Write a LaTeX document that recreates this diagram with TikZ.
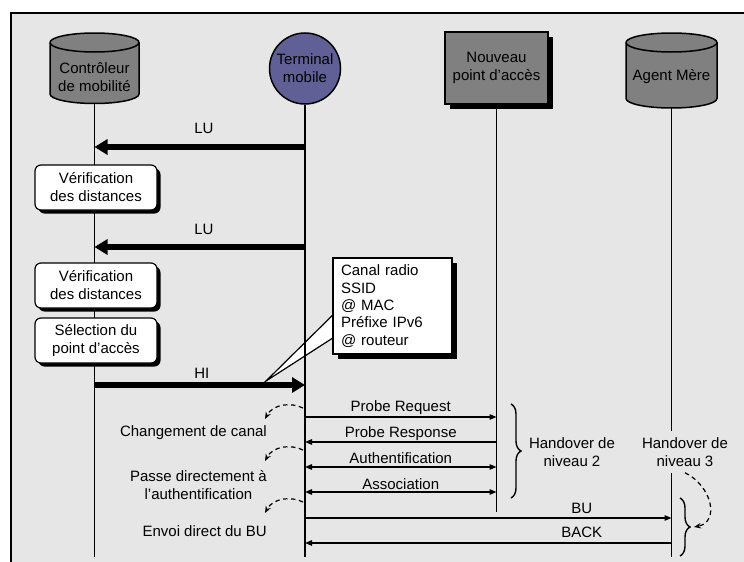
\documentclass[tikz,border=0pt]{standalone}
\usepackage{fontspec}
\setmainfont{Liberation Sans}
\usetikzlibrary{arrows.meta,decorations.pathreplacing,shadows,calc}
\definecolor{bg}{HTML}{E6E6E6}
\definecolor{midgray}{HTML}{808080}
\definecolor{termblue}{RGB}{96,96,150}

\begin{document}
\begin{tikzpicture}[x=1pt, y=-1pt,
  font=\fontsize{15}{18}\selectfont,
  life/.style={line width=1.2pt, draw=black},
  fat/.style={line width=6pt, -{Triangle[length=13pt,width=15pt]}},
  msg/.style={line width=1.3pt, -{Triangle[length=7pt,width=5.5pt]}},
  msgboth/.style={line width=1.3pt, {Triangle[length=7pt,width=5.5pt]}-{Triangle[length=7pt,width=5.5pt]}},
  hint/.style={line width=1.2pt, dash pattern=on 4.5pt off 3.5pt, -{Stealth[length=7pt,width=5.5pt]}},
  lbl/.style={inner sep=0pt, text height=10.7pt, text depth=0pt},
  stepcard/.style={rounded corners=6pt, draw, fill=white, line width=1.2pt,
    minimum width=122pt, minimum height=45pt, align=center, inner sep=0pt,
    drop shadow={shadow xshift=3.5pt, shadow yshift=-3.5pt, fill=black, opacity=1}},
  bracket/.style={decorate, decoration={brace, amplitude=10pt}, line width=1.4pt},
  cylbody/.style={fill=midgray, draw=black, line width=1.5pt}]

\useasboundingbox (0,0) rectangle (744,562);
\clip (0,0) rectangle (744,562);

% page background and frame
\fill[bg] (11,13) rectangle (760,580);
\draw[line width=2.2pt] (11,580) -- (11,13) -- (760,13);

% mobility controller (cylinder)
\path[cylbody] (50,42.5) -- (50,94) arc[start angle=180,end angle=0,x radius=44.5,y radius=9.5]
  -- (139,42.5) arc[start angle=0,end angle=-180,x radius=44.5,y radius=9.5] -- cycle;
\draw[line width=1.5pt] (50,42.5) arc[start angle=180,end angle=0,x radius=44.5,y radius=9.5];
\node[align=center] (ctrl) at (94.5,77) {Contrôleur\\de mobilité};
\coordinate (ctrltop) at (94.5,103.5);

% home agent (cylinder)
\path[cylbody] (626,42.5) -- (626,98.5) arc[start angle=180,end angle=0,x radius=45.5,y radius=9.5]
  -- (717,42.5) arc[start angle=0,end angle=-180,x radius=45.5,y radius=9.5] -- cycle;
\draw[line width=1.5pt] (626,42.5) arc[start angle=180,end angle=0,x radius=45.5,y radius=9.5];
\node (agent) at (671.5,77) {Agent Mère};
\coordinate (agenttop) at (671.5,108);

% mobile terminal
\node[circle, draw, fill=termblue, minimum size=71pt, inner sep=0pt, line width=1.5pt, align=center]
  (term) at (305,68.5) {Terminal\\mobile};

% new access point
\node[rectangle, draw, fill=midgray, line width=1.2pt, minimum width=103pt, minimum height=72pt,
  align=center, inner sep=0pt,
  drop shadow={shadow xshift=5pt, shadow yshift=-5pt, fill=black, opacity=1}]
  (nap) at (496.5,68) {Nouveau\\point d’accès};

% callout pointer (under the lifelines)
\coordinate (calltip) at (266,381);
\node[minimum width=119pt, minimum height=96pt, inner sep=0pt] (info) at (392.5,306) {};
\draw[fill=white, line width=1.2pt] (info.west |- 0,315) -- (calltip) -- (info.west |- 0,338);

% lifelines
\draw[life] (ctrltop) -- (ctrl |- 0,557);
\draw[life] (term) -- (term |- 0,557);
\draw[life] (nap) -- (nap |- 0,512);
\draw[life] (agenttop) -- (agent |- 0,557);

% callout box with its text
\node[draw, fill=white, line width=1.2pt, minimum width=119pt, minimum height=96pt,
  text width=103pt, inner xsep=8pt, align=left,
  font=\fontsize{15}{17.4}\selectfont,
  drop shadow={shadow xshift=5pt, shadow yshift=-5pt, fill=black, opacity=1}]
  (infobox) at (392.5,306) {Canal radio\\SSID\\@ MAC\\Préfixe IPv6\\@ routeur};

% controller-side processing steps
\node[stepcard] (v1) at (96,187.5) {Vérification\\des distances};
\node[stepcard] (v2) at (96,285.5) {Vérification\\des distances};
\node[stepcard] (sel) at (96,340.5) {Sélection du\\point d'accès};

% location updates and handover indication
\draw[fat] (term |- 0,147) -- (ctrl |- 0,147) node[lbl, pos=.48, yshift=19pt] {LU};
\draw[fat] (term |- 0,247) -- (ctrl |- 0,247) node[lbl, pos=.48, yshift=18pt] {LU};
\draw[fat] (ctrl |- 0,385) -- (term |- 0,385) node[lbl, pos=.51, yshift=12pt] {HI};

% level-2 exchange
\draw[msg] (term |- 0,417) -- (nap |- 0,417) node[lbl, midway, yshift=11pt] {Probe Request};
\draw[msg] (nap |- 0,442) -- (term |- 0,442) node[lbl, midway, yshift=10pt] {Probe Response};
\draw[msgboth] (term |- 0,467) -- (nap |- 0,467) node[lbl, midway, yshift=9pt] {Authentification};
\draw[msgboth] (term |- 0,492) -- (nap |- 0,492) node[lbl, midway, yshift=8pt] {Association};

% level-3 exchange
\draw[msg] (term |- 0,518) -- (agent |- 0,518) node[lbl, pos=.755, yshift=10pt] {BU};
\draw[msg] (agent |- 0,543) -- (term |- 0,543) node[lbl, pos=.245, yshift=11pt] {BACK};

% handover groupings
\draw[bracket] (511,404) -- (511,498);
\node[align=center] (h2) at (572,452.5) {Handover de\\niveau 2};
\node[align=center, fill=bg, inner xsep=2pt, inner ysep=6pt] (h3) at (685,452) {Handover de\\niveau 3};
\draw[bracket] (680,498) -- (680,556);
\coordinate (b3tip) at (694,527);
\draw[hint] (h3.south) .. controls (712,486) and (720,522) .. (b3tip);

% terminal-side optimisations
\coordinate (d1s) at (303,408); \coordinate (d1e) at (265,419);
\coordinate (d2s) at (303,450); \coordinate (d2e) at (265,461);
\coordinate (d3s) at (303,502); \coordinate (d3e) at (265,513);
\draw[hint] (d1s) .. controls (291,402) and (273,404) .. (d1e);
\draw[hint] (d2s) .. controls (291,444) and (273,446) .. (d2e);
\draw[hint] (d3s) .. controls (291,496) and (273,498) .. (d3e);
\node[lbl, anchor=east] (t1) at (267,431) {Changement de canal};
\node[align=center, anchor=east, inner sep=0pt] (t2) at (267,485.5) {Passe directement à\\l’authentification};
\node[lbl, anchor=east] (t3) at (267,531) {Envoi direct du BU};

\end{tikzpicture}
\end{document}
